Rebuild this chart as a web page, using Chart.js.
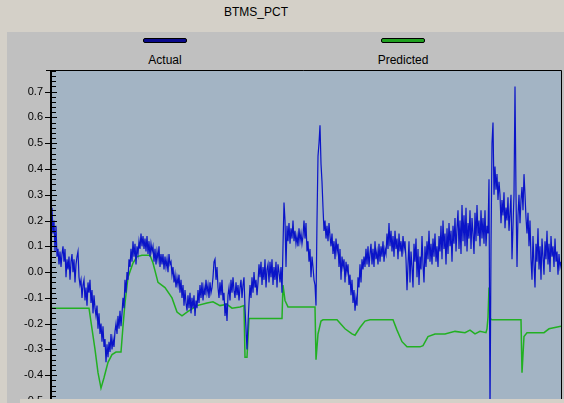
<!DOCTYPE html>
<html>
<head>
<meta charset="utf-8">
<script src="https://cdn.jsdelivr.net/npm/chart.js@4/dist/chart.umd.min.js"></script>
<style>
  body { margin: 0; background: #d4d0c8; width: 564px; height: 403px; overflow: hidden; position: relative; font-family: "Liberation Sans", Arial, sans-serif; }
  #title { position: absolute; left: 0; width: 512px; top: 5px; text-align: center; font-size: 12px; color: #000; }
  #panel { position: absolute; left: 7px; top: 32px; right: 0; bottom: 0; background: #c0c0c0; }
  .item { position: absolute; top: 38px; width: 120px; text-align: center; font-size: 12px; color: #000; }
  .swatch { width: 42px; height: 3px; margin: 0 auto 10px; border: 1px solid #000; border-radius: 2px; }
  #chart { position: absolute; left: 0; top: 0; }
  #strip { position: absolute; left: 20px; top: 399px; width: 544px; height: 4px; background: #d4d0c8; }
</style>
</head>
<body>
<div id="title">BTMS_PCT</div>
<div id="panel"></div>
<div class="item" style="left:105px"><div class="swatch" style="background:#0a0a8c"></div>Actual</div>
<div class="item" style="left:343px"><div class="swatch" style="background:#20a020"></div>Predicted</div>
<canvas id="chart" width="564" height="432"></canvas>
<div id="strip"></div>
<script>
// y axis labels
const yTicks = [-0.5, -0.4, -0.3, -0.2, -0.1, 0.0, 0.1, 0.2, 0.3, 0.4, 0.5, 0.6, 0.7];

// Actual, one sample per step, steps 0..511
const actual = [
  -0.10, 0.05, 0.25, 0.15, 0.20, 0.08, 0.18, 0.06, 0.09, 0.03, 0.08, 0.02, 0.07, 0.10, 0.04, 0.09,
  -0.02, 0.05, 0.01, 0.06, -0.03, 0.04, 0.07, 0.00, 0.05, -0.04, 0.03, 0.06, 0.08, -0.02, -0.05, -0.03,
  -0.10, -0.05, -0.03, -0.11, -0.06, -0.13, -0.04, -0.08, -0.03, -0.12, -0.07, -0.16, -0.09, -0.14, -0.17, -0.13,
  -0.22, -0.16, -0.24, -0.20, -0.27, -0.21, -0.29, -0.26, -0.35, -0.28, -0.33, -0.27, -0.31, -0.24, -0.30, -0.26,
  -0.29, -0.23, -0.20, -0.24, -0.17, -0.22, -0.15, -0.21, -0.16, -0.10, -0.14, -0.03, -0.08, 0.00, -0.03, 0.05,
  0.02, 0.09, 0.04, 0.12, 0.06, 0.11, 0.03, 0.10, 0.07, 0.12, 0.09, 0.15, 0.10, 0.14, 0.09, 0.13,
  0.08, 0.14, 0.07, 0.12, 0.06, 0.11, 0.08, 0.10, 0.04, 0.09, 0.03, 0.08, 0.05, 0.10, 0.02, 0.07,
  0.03, 0.07, 0.01, 0.06, 0.02, 0.05, 0.00, 0.07, 0.03, 0.04, -0.01, 0.02, -0.04, -0.01, -0.06, -0.02,
  -0.05, -0.01, -0.08, -0.03, -0.10, -0.05, -0.13, -0.07, -0.12, -0.15, -0.09, -0.14, -0.08, -0.16, -0.10, -0.14,
  -0.09, -0.17, -0.11, -0.14, -0.07, -0.12, -0.05, -0.10, -0.04, -0.11, -0.06, -0.09, -0.03, -0.08, -0.05, -0.10,
  -0.04, -0.08, -0.06, -0.02, 0.04, 0.05, -0.03, 0.02, -0.06, -0.10, -0.04, -0.09, -0.03, -0.11, -0.08, -0.17,
  -0.12, -0.19, -0.09, -0.06, -0.11, -0.03, -0.08, -0.02, -0.07, -0.10, -0.04, -0.09, -0.05, -0.11, -0.06, -0.03,
  -0.10, -0.05, -0.02, -0.14, -0.22, -0.30, -0.20, -0.12, -0.05, -0.10, -0.02, -0.08, 0.00, -0.06, -0.03, -0.09,
  -0.04, 0.03, -0.02, 0.04, -0.05, 0.02, -0.03, 0.05, -0.06, 0.01, 0.03, -0.04, 0.04, -0.02, 0.05, -0.05,
  0.02, -0.03, 0.04, -0.06, 0.03, 0.00, -0.04, 0.02, -0.08, 0.10, 0.27, 0.20, 0.02, 0.18, 0.12, 0.19,
  0.11, 0.17, 0.13, 0.20, 0.12, 0.16, 0.11, 0.14, 0.10, 0.17, 0.12, 0.15, 0.11, 0.14, 0.20, 0.13,
  0.19, 0.08, 0.12, 0.04, 0.09, -0.02, 0.06, 0.02, -0.03, -0.05, -0.13, 0.20, 0.45, 0.50, 0.57, 0.42,
  0.35, 0.25, 0.16, 0.20, 0.13, 0.18, 0.12, 0.19, 0.14, 0.10, 0.15, 0.07, 0.12, 0.05, 0.13, 0.08,
  0.11, 0.02, 0.09, -0.03, 0.06, 0.02, 0.05, -0.04, 0.04, 0.00, 0.03, -0.05, -0.01, -0.09, -0.03, -0.12,
  -0.07, -0.15, -0.10, -0.13, -0.02, -0.06, 0.03, -0.04, 0.05, 0.01, 0.06, 0.02, 0.09, 0.03, 0.10, 0.02,
  0.07, 0.11, 0.03, 0.09, 0.02, 0.12, 0.05, 0.08, 0.03, 0.11, 0.04, 0.10, 0.06, 0.12, 0.04, 0.09,
  0.07, 0.15, 0.09, 0.19, 0.10, 0.16, 0.08, 0.14, 0.06, 0.16, 0.09, 0.13, 0.05, 0.15, 0.08, 0.12,
  0.06, 0.14, 0.09, 0.12, 0.05, -0.07, 0.03, 0.12, -0.04, 0.08, 0.02, -0.06, 0.11, 0.04, 0.13, -0.02,
  0.09, -0.05, 0.06, 0.01, 0.14, 0.03, -0.04, 0.10, 0.02, 0.12, 0.05, 0.16, 0.04, 0.11, 0.03, 0.13,
  0.06, 0.15, 0.04, 0.10, 0.02, 0.14, 0.08, 0.18, 0.05, 0.20, 0.09, 0.15, 0.03, 0.17, 0.07, 0.19,
  0.10, 0.16, 0.04, 0.18, 0.11, 0.21, 0.08, 0.17, 0.24, 0.09, 0.20, 0.07, 0.26, 0.12, 0.22, 0.10,
  0.25, 0.08, 0.19, 0.13, 0.24, 0.09, 0.21, 0.15, 0.07, 0.23, 0.12, 0.26, 0.14, 0.20, 0.10, 0.24,
  0.13, 0.21, 0.11, 0.24, 0.10, 0.18, 0.15, 0.36, -0.56, 0.10, 0.50, 0.58, 0.30, 0.41, 0.32, 0.38,
  0.28, 0.35, 0.30, 0.19, 0.28, 0.22, 0.31, 0.17, 0.25, 0.20, 0.29, 0.16, 0.23, 0.30, 0.05, 0.18,
  0.30, 0.72, 0.30, 0.02, 0.22, 0.30, 0.19, 0.28, 0.33, 0.24, 0.38, 0.30, 0.21, 0.15, 0.23, 0.10,
  0.20, 0.05, -0.03, 0.14, 0.03, -0.06, 0.11, 0.04, 0.17, 0.01, 0.10, -0.03, 0.13, 0.06, -0.01, 0.12,
  0.05, 0.16, 0.03, 0.11, 0.00, 0.14, 0.06, 0.10, 0.02, 0.13, 0.04, 0.08, -0.01, 0.07, 0.02, 0.04
];

// Predicted, sparse breakpoints on the same steps
const predX = [
  0, 39, 42, 45, 48, 51, 54, 58, 62, 66, 71, 73, 75, 78, 83, 87, 92, 100,
  103, 108, 115, 122, 127, 132, 137, 147, 157, 163, 170, 177, 182, 190,
  194, 195, 197, 199, 232, 233, 235, 238, 265, 266, 268, 271, 273, 287,
  295, 302, 305, 310, 315, 320, 343, 347, 352, 357, 370, 373, 378, 385,
  395, 405, 415, 420, 425, 430, 436, 437, 438, 439, 440, 442, 471, 472,
  474, 477, 494, 499, 511
];
const predY = [
  -0.14, -0.14, -0.22, -0.30, -0.39, -0.45, -0.41, -0.35, -0.32, -0.31,
  -0.31, -0.21, -0.12, -0.02, 0.035, 0.06, 0.065, 0.065, 0.035, -0.04,
  -0.06, -0.10, -0.155, -0.17, -0.155, -0.13, -0.12, -0.115, -0.13, -0.125,
  -0.14, -0.135, -0.13, -0.33, -0.33, -0.18, -0.18, -0.05, -0.11, -0.135,
  -0.135, -0.34, -0.24, -0.19, -0.185, -0.185, -0.22, -0.24, -0.245, -0.215,
  -0.19, -0.185, -0.185, -0.225, -0.27, -0.29, -0.29, -0.285, -0.25, -0.24,
  -0.24, -0.23, -0.235, -0.225, -0.24, -0.23, -0.235, -0.22, -0.175, -0.06,
  -0.18, -0.185, -0.185, -0.39, -0.25, -0.235, -0.235, -0.22, -0.21
];

const PLOT_BG = "#a3b4c4";

// plot background, frame, axis line and tick marks
const framePlugin = {
  id: "frame",
  beforeDatasetsDraw(chart) {
    const { ctx, chartArea: a } = chart;
    ctx.save();
    ctx.fillStyle = PLOT_BG;
    ctx.fillRect(a.left, a.top, a.right - a.left, a.bottom - a.top);
    ctx.restore();
  },
  afterDatasetsDraw(chart) {
    const { ctx, chartArea: a } = chart;
    const y = chart.scales.y;
    ctx.save();
    ctx.strokeStyle = "#000";
    ctx.lineWidth = 1;
    ctx.beginPath();
    ctx.moveTo(a.left - 4, a.top + 0.5);
    ctx.lineTo(a.right + 0.5, a.top + 0.5);
    ctx.lineTo(a.right + 0.5, a.bottom);
    ctx.stroke();

    ctx.lineWidth = 2;
    ctx.beginPath();
    ctx.moveTo(a.left + 1, a.top);
    ctx.lineTo(a.left + 1, a.bottom);
    ctx.stroke();

    ctx.lineWidth = 1;
    ctx.beginPath();
    for (let v = -0.56; v <= 0.785; v += 0.02) {
      const py = Math.round(y.getPixelForValue(v)) + 0.5;
      ctx.moveTo(a.left, py);
      ctx.lineTo(a.left + 6, py);
    }
    yTicks.forEach(v => {
      const py = Math.round(y.getPixelForValue(v)) + 0.5;
      ctx.moveTo(a.left - 5, py);
      ctx.lineTo(a.left + 7, py);
    });
    ctx.stroke();
    ctx.restore();
  }
};

new Chart(document.getElementById("chart"), {
  type: "line",
  data: {
    datasets: [
      {
        label: "Actual",
        data: actual.map((v, i) => ({ x: i, y: v })),
        borderColor: "#0a14c8",
        borderWidth: 1.2,
        pointRadius: 0,
        tension: 0
      },
      {
        label: "Predicted",
        data: predX.map((x, i) => ({ x: x, y: predY[i] })),
        borderColor: "#22b022",
        borderWidth: 1.5,
        pointRadius: 0,
        tension: 0
      }
    ]
  },
  options: {
    responsive: false,
    devicePixelRatio: 1,
    animation: false,
    layout: { padding: { top: 70, right: 3, bottom: 14, left: 0 } },
    plugins: {
      legend: { display: false },
      tooltip: { enabled: false }
    },
    scales: {
      x: {
        type: "linear",
        display: false,
        min: 0,
        max: 511
      },
      y: {
        min: -0.566,
        max: 0.784,
        afterFit(scale) { scale.width = 50; },
        afterBuildTicks(scale) { scale.ticks = yTicks.map(v => ({ value: v })); },
        grid: { display: false, drawTicks: false },
        border: { display: false },
        ticks: {
          padding: 7,
          color: "#000",
          font: { family: "Liberation Sans", size: 11 },
          callback: v => v.toFixed(1)
        }
      }
    }
  },
  plugins: [framePlugin]
});
</script>
</body>
</html>
